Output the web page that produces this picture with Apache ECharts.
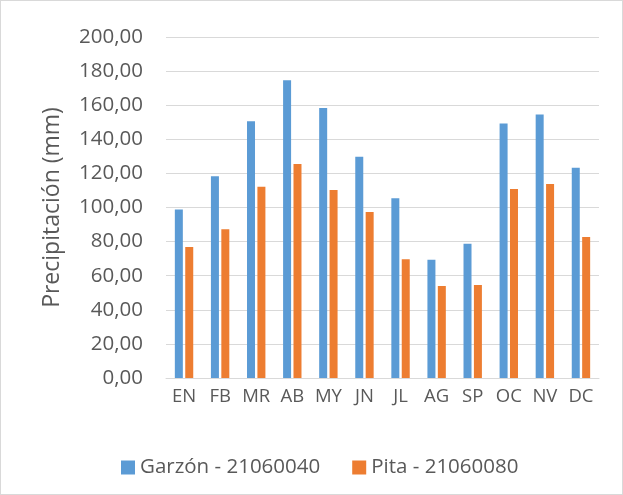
<!DOCTYPE html>
<html>
<head>
<meta charset="utf-8">
<script src="https://cdn.jsdelivr.net/npm/echarts@6/dist/echarts.min.js"></script>
<style>
  html, body { margin: 0; padding: 0; background: #fff; }
  #main { width: 621px; height: 493px; border: 1px solid #d9d9d9; }
</style>
</head>
<body>
<div id="main"></div>
<script>
// meses
const months = ["EN", "FB", "MR", "AB", "MY", "JN", "JL", "AG", "SP", "OC", "NV", "DC"];
// precipitación media mensual (mm)
const garzon = [98.9, 118.4, 150.6, 174.6, 158.4, 129.7, 105.4, 69.3, 78.8, 149.3, 154.6, 123.3];
const pita = [76.9, 87.2, 112.2, 125.5, 110.2, 97.4, 69.7, 54.0, 54.6, 110.8, 113.8, 82.7];
const seriesNames = ["Garzón - 21060040", "Pita - 21060080"];

const fontFamily = "'Open Sans', 'Noto Sans', sans-serif";
const textColor = "#595959";

var myChart = echarts.init(document.getElementById("main"));
const option = {
  animation: false,
  textStyle: { fontFamily: fontFamily },
  grid: {
    left: 165,
    right: 23,
    top: 36,
    bottom: 116,
    containLabel: false,
  },
  legend: {
    left: 115,
    top: 451,
    icon: "rect",
    itemWidth: 14,
    itemHeight: 14,
    itemGap: 32,
    textStyle: { color: textColor, fontSize: 20.5, fontFamily: fontFamily },
    data: seriesNames,
  },
  xAxis: {
    type: "category",
    data: months,
    axisLine: { show: true, lineStyle: { color: "#d9d9d9", width: 1 } },
    axisTick: { show: false },
    axisLabel: { color: textColor, fontSize: 18.5, margin: 9, interval: 0 },
  },
  yAxis: {
    type: "value",
    min: 0,
    max: 200,
    interval: 20,
    name: "Precipitación (mm)",
    nameLocation: "middle",
    nameGap: 102,
    nameTextStyle: { color: textColor, fontSize: 23, fontFamily: fontFamily },
    axisLine: { show: false },
    axisTick: { show: false },
    axisLabel: {
      color: textColor,
      fontSize: 20.5,
      margin: 23,
      formatter: (v) => v.toFixed(2).replace(".", ","),
    },
    splitLine: { lineStyle: { color: "#d9d9d9", width: 1 } },
  },
  series: [
    {
      name: seriesNames[0],
      type: "bar",
      data: garzon,
      barWidth: 8,
      barGap: "30%",
      itemStyle: { color: "#5b9bd5" },
    },
    {
      name: seriesNames[1],
      type: "bar",
      data: pita,
      barWidth: 8,
      itemStyle: { color: "#ed7d31" },
    },
  ],
};
myChart.setOption(option);
</script>
</body>
</html>
